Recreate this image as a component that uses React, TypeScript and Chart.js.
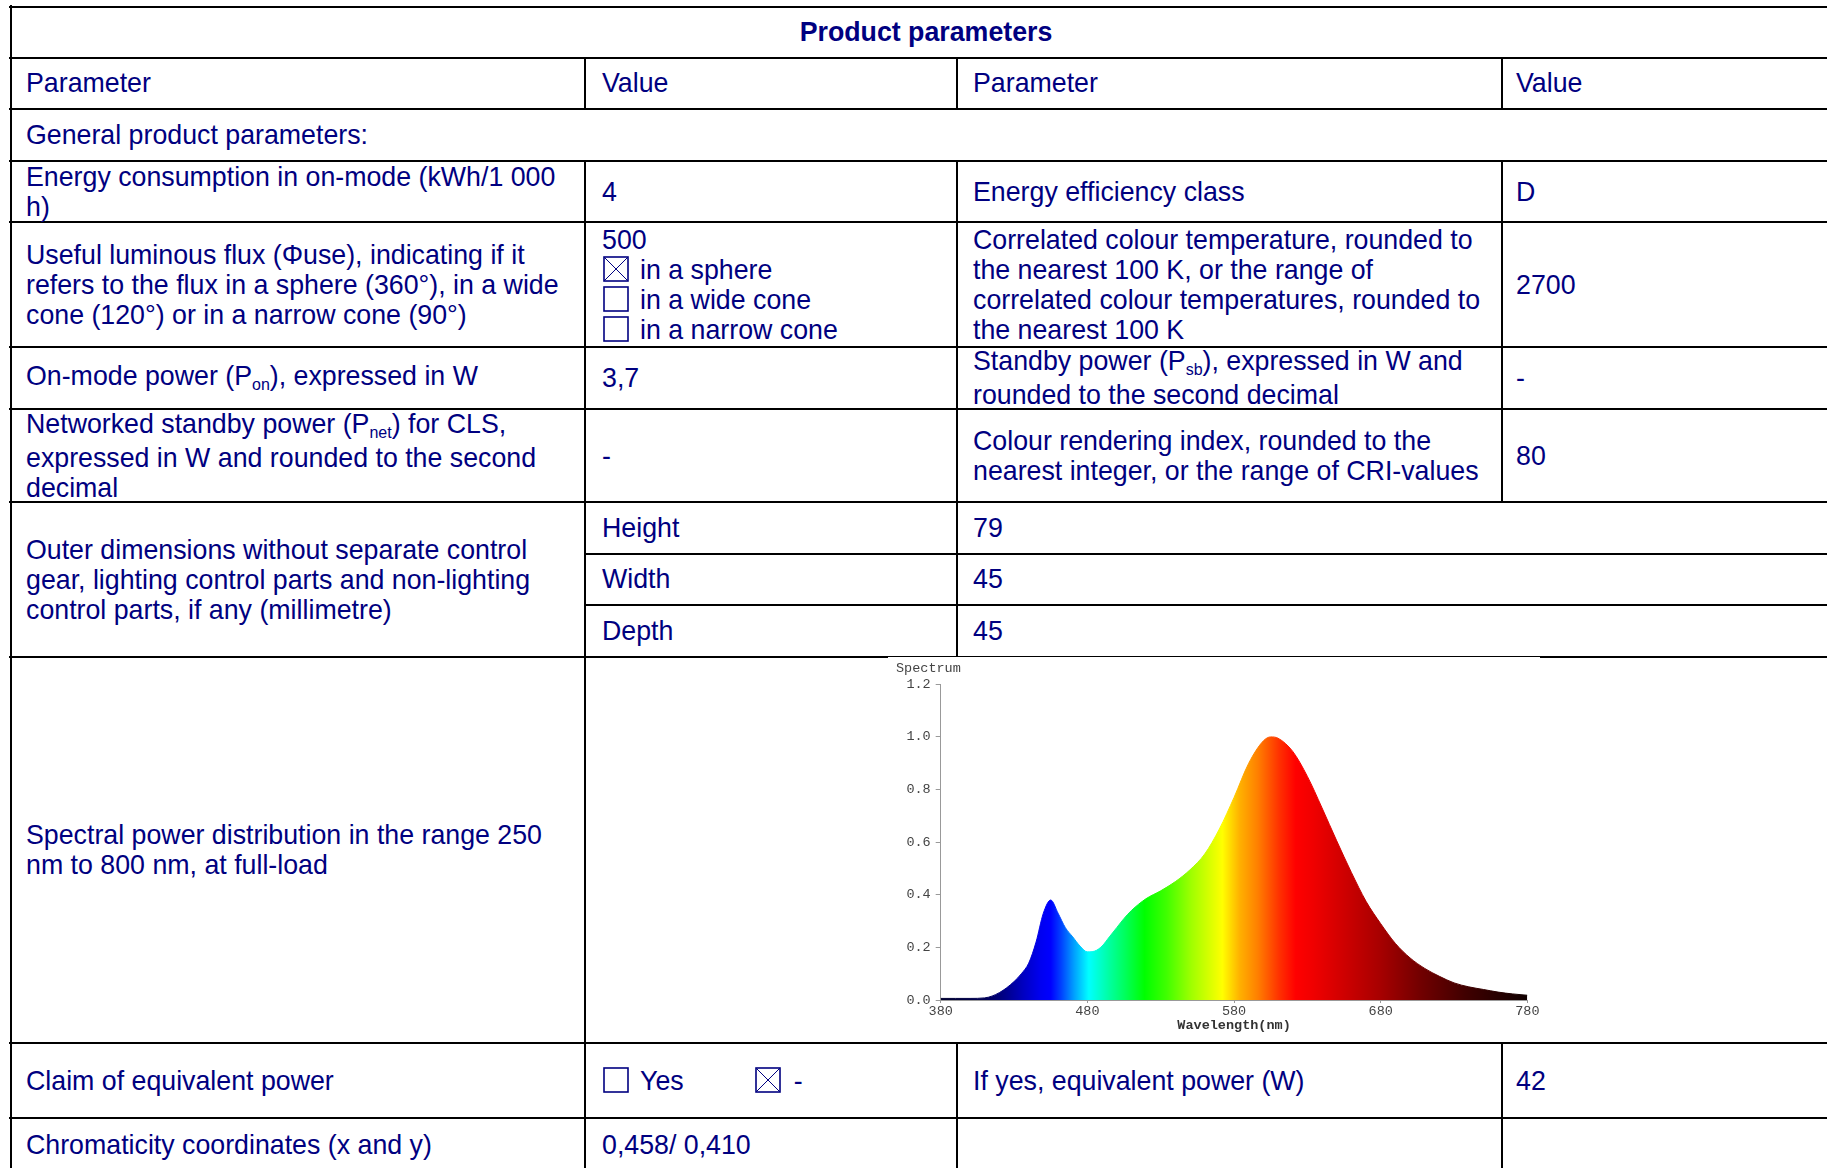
import React, { useEffect, useRef } from 'react';
import { Chart, registerables } from 'chart.js';

Chart.register(...registerables);

// ---------- chart data ----------
const wavelengths = [
  380, 390, 400, 410, 420, 430, 435, 440, 445, 450, 455, 460, 465, 470, 475, 480, 485, 490, 495, 500,
  505, 510, 520, 530, 540, 550, 560, 570, 580, 590, 600, 605, 610, 620, 630, 640, 650, 660, 670, 680,
  690, 700, 710, 720, 730, 740, 750, 760, 770, 780,
];
const intensity = [
  0.006, 0.006, 0.006, 0.008, 0.028, 0.07, 0.1, 0.14, 0.22, 0.33, 0.38, 0.33, 0.275, 0.24, 0.205, 0.183, 0.186, 0.205, 0.24, 0.275,
  0.31, 0.34, 0.385, 0.415, 0.45, 0.495, 0.555, 0.65, 0.77, 0.9, 0.985, 1.0, 0.995, 0.945, 0.85, 0.73, 0.605, 0.485, 0.375, 0.29,
  0.215, 0.16, 0.12, 0.09, 0.065, 0.05, 0.04, 0.03, 0.023, 0.018,
];
const xTickValues = [380, 480, 580, 680, 780];
const yTickValues = [0, 0.2, 0.4, 0.6, 0.8, 1.0, 1.2];

// colour of the fill at each wavelength (style)
const stopWavelengths = [380, 410, 424, 436, 448, 455, 462, 471, 481, 495, 505, 519, 534, 551, 572, 584, 596, 611, 622, 634, 664, 679, 708, 738, 780];
const stopColours = [
  '#000030', '#000055', '#00008a', '#0000c0', '#0000f0', '#0000ff', '#0040ff', '#00a0ff', '#00ffff', '#00ffa0', '#00ff60', '#00ff00',
  '#40ff00', '#a0ff00', '#ffff00', '#ffb000', '#ff8000', '#ff3000', '#ff0000', '#f00000', '#c00000', '#a80000', '#700000', '#400000', '#100000',
];

const NAVY = '#000080';
const FONT = '"Liberation Sans", Arial, Helvetica, sans-serif';
const MONO = '"Liberation Mono", "Courier New", monospace';
const TICK = '#444444';
const AXIS = '#999999';

// ---------- table geometry ----------
const C1 = 585;
const C2 = 957;
const C3 = 1502;
const TX0 = 26;
const TX1 = 602;
const TX2 = 973;
const TX3 = 1516;

const HL: [number, number, number][] = [
  [7, 10, 1827],
  [57.5, 10, 1827],
  [108.5, 10, 1827],
  [161, 10, 1827],
  [222, 10, 1827],
  [347, 10, 1827],
  [409, 10, 1827],
  [502, 10, 1827],
  [553.5, C1, 1827],
  [605, C1, 1827],
  [657, 10, 1827],
  [1043, 10, 1827],
  [1118, 10, 1827],
];
const VL: [number, number, number][] = [
  [11, 6, 1168],
  [C1, 57.5, 108.5],
  [C1, 161, 1168],
  [C2, 57.5, 108.5],
  [C2, 161, 657],
  [C2, 1043, 1168],
  [C3, 57.5, 108.5],
  [C3, 161, 502],
  [C3, 1043, 1168],
];

const Cell = ({ x, top, bottom, children, bold, center }: any) => (
  <div
    style={{
      position: 'absolute',
      left: center ? 10 : x,
      width: center ? 1832 : undefined,
      top,
      height: bottom - top,
      display: 'flex',
      alignItems: 'center',
      justifyContent: center ? 'center' : 'flex-start',
    }}
  >
    <div style={{ lineHeight: '30px', whiteSpace: 'nowrap', fontWeight: bold ? 'bold' : 'normal' }}>{children}</div>
  </div>
);

const Sub = ({ children }: any) => (
  <span style={{ fontSize: '16px', position: 'relative', top: '5px' }}>{children}</span>
);

const Box = ({ checked, ml = 1, mr = 11 }: any) => (
  <svg
    width={26}
    height={26}
    style={{ display: 'inline-block', verticalAlign: 'top', marginTop: 1, marginLeft: ml, marginRight: mr }}
  >
    <rect x={1} y={1} width={24} height={24} fill="none" stroke={NAVY} strokeWidth={1.6} />
    {checked ? (
      <>
        <line x1={1.5} y1={1.5} x2={24.5} y2={24.5} stroke={NAVY} strokeWidth={1} />
        <line x1={24.5} y1={1.5} x2={1.5} y2={24.5} stroke={NAVY} strokeWidth={1} />
      </>
    ) : null}
  </svg>
);

const Spectrum = () => {
  const ref = useRef<HTMLCanvasElement | null>(null);
  useEffect(() => {
    const canvas = ref.current;
    if (!canvas) return;
    const points = wavelengths.map((w, i) => ({ x: w, y: intensity[i] }));
    const grad = (chart: any) => {
      const { ctx, chartArea, scales } = chart;
      if (!chartArea || !scales.x) return 'rgba(0,0,0,0)';
      const x0 = scales.x.getPixelForValue(380);
      const x1 = scales.x.getPixelForValue(780);
      const g = ctx.createLinearGradient(x0, 0, x1, 0);
      stopWavelengths.forEach((w, i) => g.addColorStop((w - 380) / 400, stopColours[i]));
      return g;
    };
    const label = {
      id: 'spectrumLabel',
      afterDraw(chart: any) {
        const ctx = chart.ctx;
        ctx.save();
        ctx.font = `13.5px ${MONO}`;
        ctx.fillStyle = TICK;
        ctx.textBaseline = 'middle';
        ctx.textAlign = 'left';
        ctx.fillText('Spectrum', 8, 11);
        ctx.restore();
      },
    };
    const chart = new Chart(canvas, {
      type: 'line',
      data: {
        datasets: [
          {
            data: points,
            fill: 'origin',
            pointRadius: 0,
            borderWidth: 1,
            cubicInterpolationMode: 'monotone',
            backgroundColor: (c: any) => grad(c.chart),
            borderColor: (c: any) => grad(c.chart),
          } as any,
        ],
      },
      options: {
        responsive: false,
        animation: false,
        devicePixelRatio: 1,
        layout: { padding: { left: 0, right: 12.6, top: 27.3, bottom: 0 } },
        plugins: { legend: { display: false }, tooltip: { enabled: false }, title: { display: false } },
        scales: {
          x: {
            type: 'linear',
            min: 380,
            max: 780,
            afterFit: (s: any) => {
              s.height = 40;
            },
            afterBuildTicks: (s: any) => {
              s.ticks = xTickValues.map((v) => ({ value: v }));
            },
            ticks: {
              color: TICK,
              font: { family: MONO, size: 13.5 },
              padding: 0,
              maxRotation: 0,
              autoSkip: false,
              callback: (v: any) => String(v),
            },
            grid: { drawOnChartArea: false, tickLength: 3, color: AXIS },
            border: { color: AXIS, width: 1 },
            title: {
              display: true,
              text: 'Wavelength(nm)',
              color: '#333333',
              font: { family: MONO, size: 13.5, weight: 'bold' },
              padding: { top: 0, bottom: 6 },
            },
          } as any,
          y: {
            type: 'linear',
            min: 0,
            max: 1.2,
            afterFit: (s: any) => {
              s.width = 52.7;
            },
            afterBuildTicks: (s: any) => {
              s.ticks = yTickValues.map((v) => ({ value: v }));
            },
            ticks: {
              color: TICK,
              font: { family: MONO, size: 13.5 },
              padding: 5,
              autoSkip: false,
              callback: (v: any) => Number(v).toFixed(1),
            },
            grid: { drawOnChartArea: false, tickLength: 5, color: AXIS },
            border: { color: AXIS, width: 1 },
          } as any,
        },
      },
      plugins: [label],
    });
    return () => chart.destroy();
  }, []);
  return (
    <div style={{ position: 'absolute', left: 888, top: 657, width: 652, height: 383, background: '#ffffff' }}>
      <canvas ref={ref} width={652} height={383} style={{ display: 'block', width: 652, height: 383 }} />
    </div>
  );
};

export default function App() {
  return (
    <div
      style={{
        position: 'absolute',
        left: 0,
        top: 0,
        width: 1827,
        height: 1168,
        overflow: 'hidden',
        background: '#ffffff',
        fontFamily: FONT,
        fontSize: '26.75px',
        color: NAVY,
      }}
    >
      {HL.map(([y, x0, x1], i) => (
        <div key={'h' + i} style={{ position: 'absolute', left: x0 - 1, top: Math.round(y - 1), width: x1 - x0 + 2, height: 2, background: '#000' }} />
      ))}
      {VL.map(([x, y0, y1], i) => (
        <div key={'v' + i} style={{ position: 'absolute', left: Math.round(x - 1), top: y0 - 1, width: 2, height: y1 - y0 + 2, background: '#000' }} />
      ))}

      <Cell center top={7} bottom={57.5} bold>Product parameters</Cell>

      <Cell x={TX0} top={57.5} bottom={108.5}>Parameter</Cell>
      <Cell x={TX1} top={57.5} bottom={108.5}>Value</Cell>
      <Cell x={TX2} top={57.5} bottom={108.5}>Parameter</Cell>
      <Cell x={TX3} top={57.5} bottom={108.5}>Value</Cell>

      <Cell x={TX0} top={108.5} bottom={161}>General product parameters:</Cell>

      <Cell x={TX0} top={161} bottom={222}>Energy consumption in on-mode (kWh/1 000<br />h)</Cell>
      <Cell x={TX1} top={161} bottom={222}>4</Cell>
      <Cell x={TX2} top={161} bottom={222}>Energy efficiency class</Cell>
      <Cell x={TX3} top={161} bottom={222}>D</Cell>

      <Cell x={TX0} top={222} bottom={347}>
        Useful luminous flux (Φuse), indicating if it<br />refers to the flux in a sphere (360°), in a wide<br />cone (120°) or in a narrow cone (90°)
      </Cell>
      <Cell x={TX1} top={222} bottom={347}>
        500<br />
        <Box checked />in a sphere<br />
        <Box />in a wide cone<br />
        <Box />in a narrow cone
      </Cell>
      <Cell x={TX2} top={222} bottom={347}>
        Correlated colour temperature, rounded to<br />the nearest 100 K, or the range of<br />correlated colour temperatures, rounded to<br />the nearest 100 K
      </Cell>
      <Cell x={TX3} top={222} bottom={347}>2700</Cell>

      <Cell x={TX0} top={347} bottom={409}>On-mode power (P<Sub>on</Sub>), expressed in W</Cell>
      <Cell x={TX1} top={347} bottom={409}>3,7</Cell>
      <Cell x={TX2} top={347} bottom={409}>
        Standby power (P<Sub>sb</Sub>), expressed in W and<br />rounded to the second decimal
      </Cell>
      <Cell x={TX3} top={347} bottom={409}>-</Cell>

      <Cell x={TX0} top={409} bottom={502}>
        Networked standby power (P<Sub>net</Sub>) for CLS,<br />expressed in W and rounded to the second<br />decimal
      </Cell>
      <Cell x={TX1} top={409} bottom={502}>-</Cell>
      <Cell x={TX2} top={409} bottom={502}>
        Colour rendering index, rounded to the<br />nearest integer, or the range of CRI-values
      </Cell>
      <Cell x={TX3} top={409} bottom={502}>80</Cell>

      <Cell x={TX0} top={502} bottom={657}>
        Outer dimensions without separate control<br />gear, lighting control parts and non-lighting<br />control parts, if any (millimetre)
      </Cell>
      <Cell x={TX1} top={502} bottom={553.5}>Height</Cell>
      <Cell x={TX2} top={502} bottom={553.5}>79</Cell>
      <Cell x={TX1} top={553.5} bottom={605}>Width</Cell>
      <Cell x={TX2} top={553.5} bottom={605}>45</Cell>
      <Cell x={TX1} top={605} bottom={657}>Depth</Cell>
      <Cell x={TX2} top={605} bottom={657}>45</Cell>

      <Cell x={TX0} top={657} bottom={1043}>
        Spectral power distribution in the range 250<br />nm to 800 nm, at full-load
      </Cell>

      <Cell x={TX0} top={1043} bottom={1118}>Claim of equivalent power</Cell>
      <Cell x={TX1} top={1043} bottom={1118}>
        <Box />Yes<Box checked ml={71} mr={13} />-
      </Cell>
      <Cell x={TX2} top={1043} bottom={1118}>If yes, equivalent power (W)</Cell>
      <Cell x={TX3} top={1043} bottom={1118}>42</Cell>

      <Cell x={TX0} top={1118} bottom={1172}>Chromaticity coordinates (x and y)</Cell>
      <Cell x={TX1} top={1118} bottom={1172}>0,458/ 0,410</Cell>

      <Spectrum />
    </div>
  );
}
